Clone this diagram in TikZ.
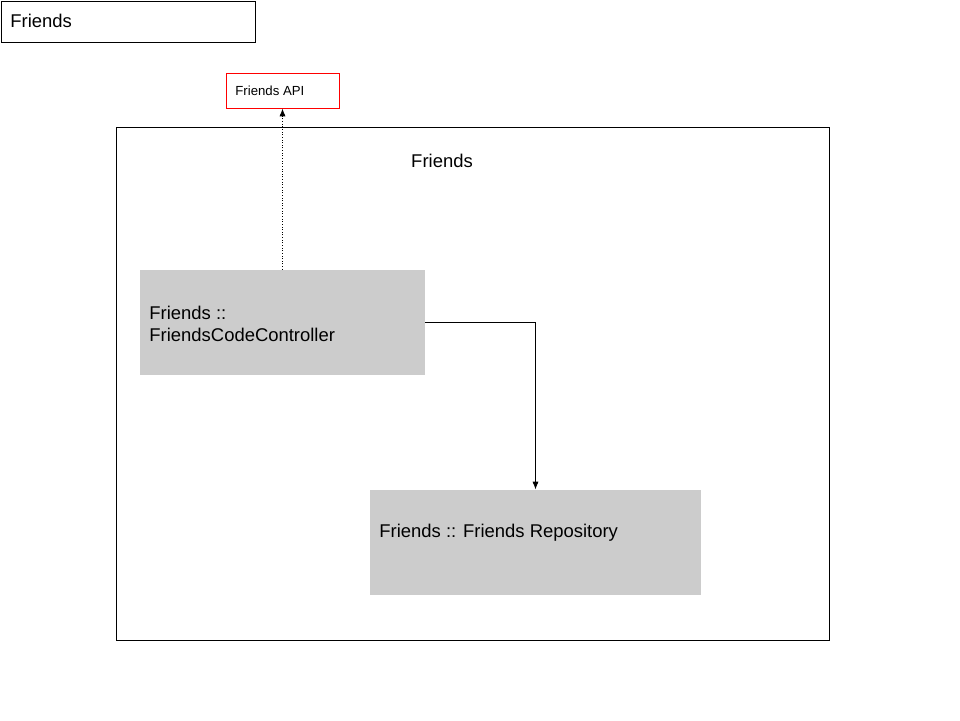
\documentclass[tikz,border=0pt]{standalone}
\usepackage{fontspec}
\setmainfont{Liberation Sans}
\usepackage{xcolor}
\usetikzlibrary{arrows.meta}
\usetikzlibrary{positioning}

\definecolor{boxgray}{RGB}{204,204,204}

\begin{document}
\begin{tikzpicture}[x=0.02cm, y=-0.02cm, line width=0.5pt]
		
		\tikzset{
			outline/.style={draw=black, inner sep=0pt},
			apibox/.style={draw=red, inner sep=0pt, minimum width=113*0.02cm, minimum height=35*0.02cm},
			compbox/.style={fill=boxgray, inner sep=0pt, minimum height=2.1cm},
			lbl/.style={font=\fontsize{10.5pt}{12.5pt}\selectfont, inner sep=0pt},
			smalllbl/.style={font=\fontsize{7.5pt}{9pt}\selectfont, inner sep=0pt},
			tip/.style={-{Latex[length=4.5pt, width=3.5pt]}},
		}
		
		\useasboundingbox (0,0) rectangle (960,720);
		
		% title box
		\node [outline, minimum width=254*0.02cm, minimum height=41*0.02cm] (title) at (128,21.5) {};
		\node [lbl, anchor=west] (titletxt) at (10,21) {Friends};
		
		% api
		\node [apibox] (api) at (282.5,90.5) {};
		\node [smalllbl, anchor=west] (apitxt) at (235,90.5) {Friends API};
		
		% frame
		\node [outline, minimum width=713*0.02cm, minimum height=513*0.02cm] (frame) at (472.5,383.5) {};
		\node [lbl] (frametxt) at (442,160.5) {Friends};
		
		% components
		\node [compbox, minimum width=5.7cm] (ctrl) at (282.5,322.5) {};
		\node [lbl, anchor=west, align=left] (ctrltxt) at (149,324) {Friends ::\\FriendsCodeController};
		\node [compbox, minimum width=6.62cm] (repo) at (535.5,542.5) {};
		\node [lbl, anchor=west] (repotxt) at (379,532.5) {Friends :: Friends Repository};
		
		\draw [tip, densely dotted] (ctrl.north) -- (api.south);
		\draw [tip] (ctrl.east) -| (repo.north);
		
\end{tikzpicture}
\end{document}
